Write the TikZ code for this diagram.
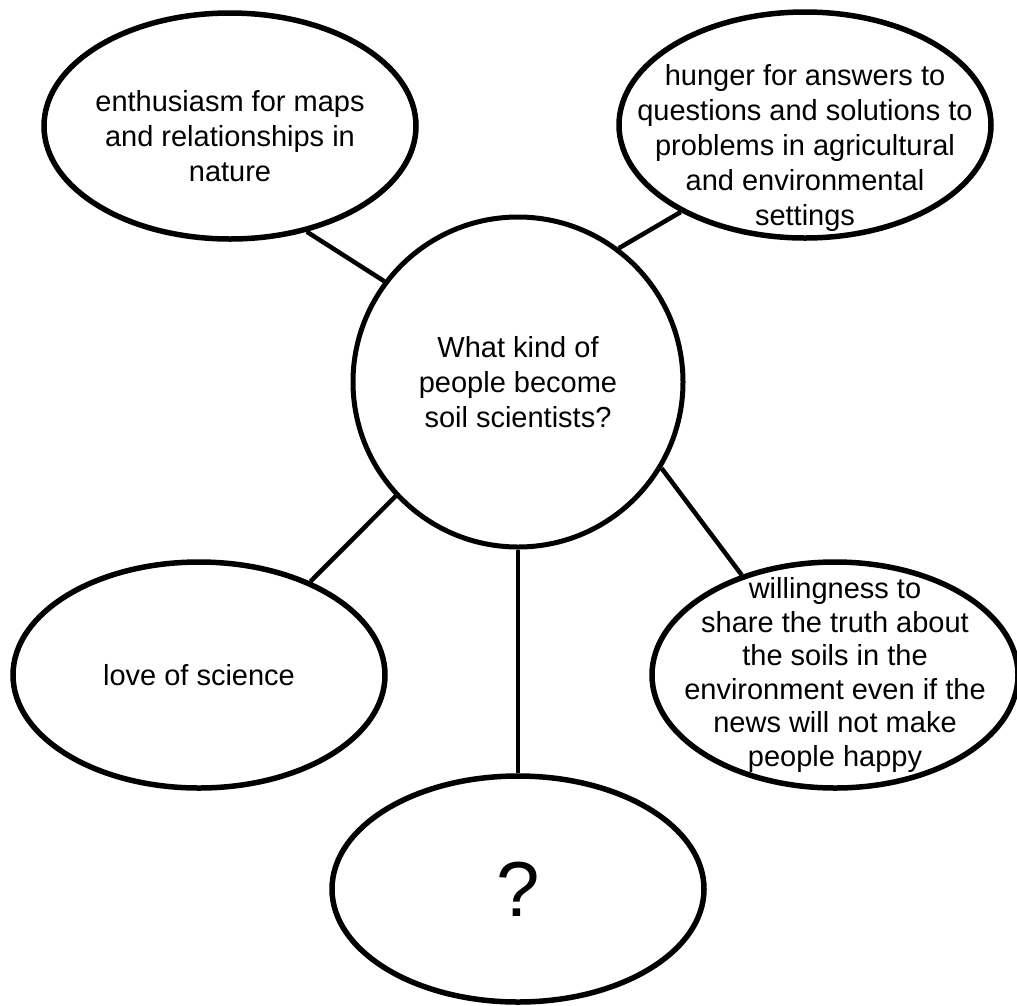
\documentclass[tikz,border=0pt]{standalone}
\usepackage{fontspec}
\setmainfont{Liberation Sans}
\usetikzlibrary{shapes.geometric}

\begin{document}
\begin{tikzpicture}[x=1pt,y=1pt,
  bubble/.style={draw,ellipse,line width=5.5pt,minimum width=372pt,minimum height=226pt,inner sep=0pt},
  txt/.style={align=center,font=\fontsize{29}{35}\selectfont},
  link/.style={line width=4.5pt}]
\useasboundingbox (0,0) rectangle (1017,-1005);
\node (Q) [draw,circle,line width=5pt,minimum size=330pt,inner sep=0pt,txt] at (518,-382) {What kind of\\people become\\soil scientists?};
\node (M) [bubble,label={[txt,yshift=-10pt]center:{enthusiasm for maps\\and relationships in\\nature}}] at (230,-126) {};
\node (H) [bubble,label={[txt,yshift=-23pt]center:{hunger for answers to\\questions and solutions to\\problems in agricultural\\and environmental\\settings}}] at (805,-125) {};
\node (S) [bubble,txt] at (199,-675) {love of science};
\node (T) [bubble,minimum width=366pt,label={[txt,font=\fontsize{29}{33.5}\selectfont]center:{willingness to\\share the truth about\\the soils in the\\environment even if the\\news will not make\\people happy}}] at (835,-675) {};
\node (U) [bubble,font=\fontsize{78}{80}\selectfont] at (518,-889) {?};
\draw[link] (Q.143) -- (M.-54);
\draw[link] (Q.53) -- (H.-145);
\draw[link] (Q.-137) -- (S.40);
\draw[link] (Q.-31) -- (T.133);
\draw[link] (Q.south) -- (U.north);
\end{tikzpicture}
\end{document}
